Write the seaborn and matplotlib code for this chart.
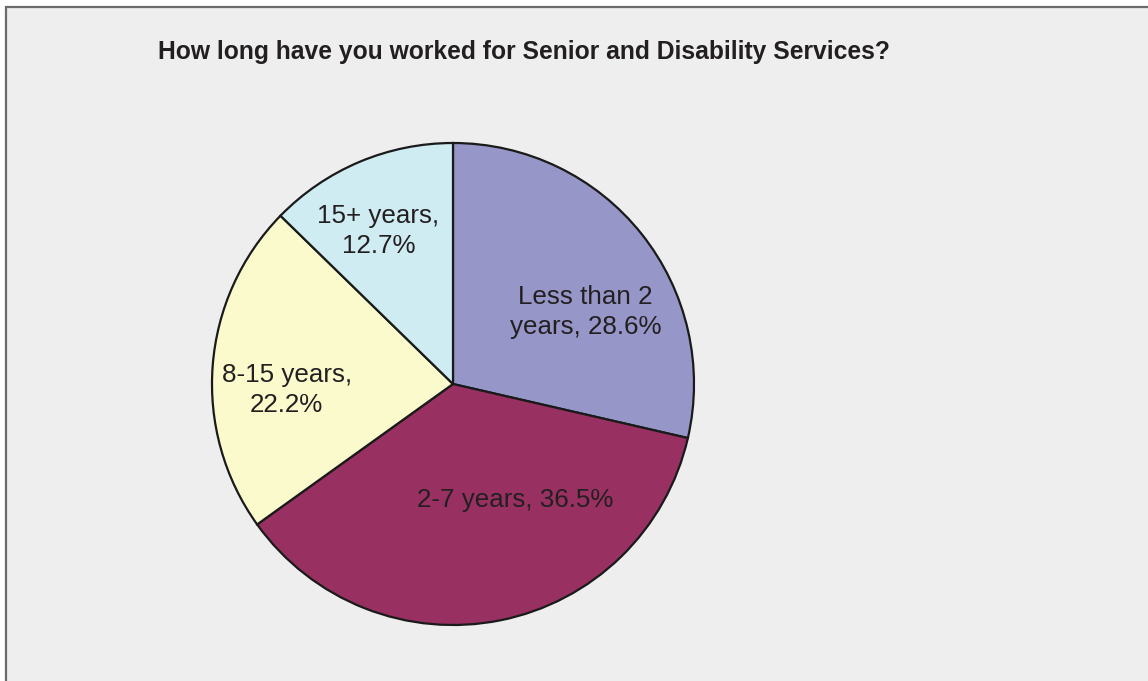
import matplotlib
matplotlib.use("Agg")
import matplotlib.pyplot as plt
from matplotlib.patches import Rectangle
import seaborn as sns

# Survey: length of service
categories = ["Less than 2\nyears, ", "2-7 years, ", "8-15 years,\n", "15+ years,\n"]
shares = [28.6, 36.5, 22.2, 12.7]
colors = ["#9696c8", "#993062", "#fafacd", "#cfecf2"]
title = "How long have you worked for Senior and Disability Services?"

# label anchor points (in pie-radius units, relative to centre)
label_xy = [(0.55, 0.30), (0.26, -0.48), (-0.69, -0.025), (-0.31, 0.635)]

sns.set_theme(style="white")
plt.rcParams["font.family"] = ["Liberation Sans", "DejaVu Sans"]

W, H = 1148, 681
fig = plt.figure(figsize=(W / 100, H / 100), dpi=100)
fig.patch.set_facecolor("white")

# grey panel with a frame along the left and top
fig.patches.append(Rectangle((6 / W, -0.1), 1.2, (H - 7) / H + 0.1,
                             transform=fig.transFigure, facecolor="#eeeeee",
                             edgecolor="#6b6b6b", linewidth=1.6, zorder=-10))

fig.text(523.5 / W, 1 - 52 / H, title, ha="center", va="center",
         fontsize=17.7, fontweight="bold", color="#231f20")

R = 241
ax = fig.add_axes([(453 - R) / W, (H - 384 - R) / H, 2 * R / W, 2 * R / H])
ax.set_facecolor("none")
wedges, _ = ax.pie(shares, colors=sns.color_palette(colors), startangle=90,
                   counterclock=False, radius=1.0,
                   wedgeprops=dict(edgecolor="#1a1a1a", linewidth=1.6))
for name, val, (x, y) in zip(categories, shares, label_xy):
    ax.text(x, y, f"{name}{val:.1f}%", ha="center", va="center",
            fontsize=18.7, color="#231f20", linespacing=1.3)
ax.set_xlim(-1, 1)
ax.set_ylim(-1, 1)
ax.set_aspect("equal")
ax.axis("off")

fig.savefig("out.png", dpi=100, facecolor="white")
